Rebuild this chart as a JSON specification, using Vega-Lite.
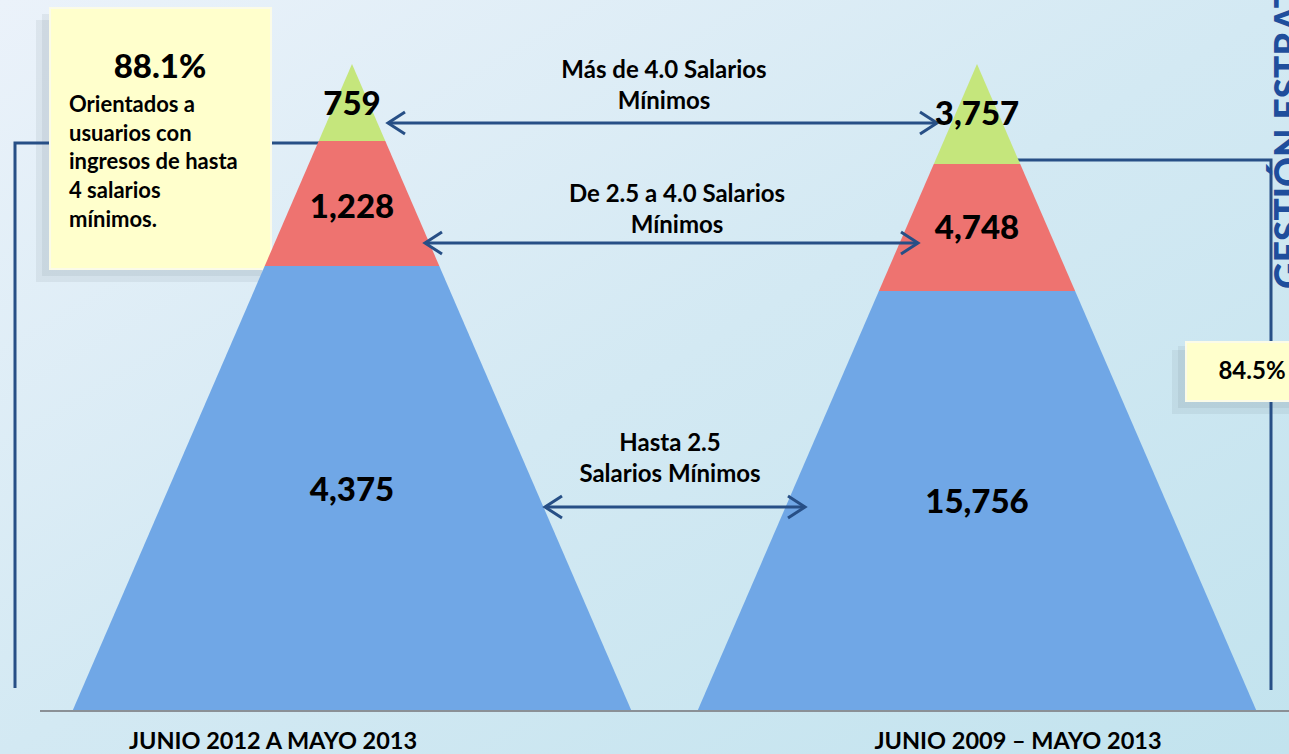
{
"$schema": "https://vega.github.io/schema/vega-lite/v6.json",
"width": 1289, "height": 754, "padding": 0,
"autosize": {"type": "none"},
"background": "#d6ebf4",
"config": {"view": {"stroke": null}},
"datasets": {
"bg": [{"x": 0, "x2": 1289, "y": 0, "y2": 754}],
"shadows": [{"x": 36, "x2": 262, "y": 20, "y2": 282}, {"x": 42, "x2": 266, "y": 14, "y2": 276}, {"x": 1172, "x2": 1289, "y": 350, "y2": 414}, {"x": 1178, "x2": 1289, "y": 346, "y2": 408}],
"boxes": [{"x": 50, "x2": 271, "y": 8, "y2": 269}, {"x": 1186, "x2": 1295, "y": 342, "y2": 401}],
"brackets": [
{"id": "L", "ord": 1, "x": 15, "y": 688}, {"id": "L", "ord": 2, "x": 15, "y": 143}, {"id": "L", "ord": 3, "x": 322, "y": 143},
{"id": "R", "ord": 1, "x": 1013, "y": 160}, {"id": "R", "ord": 2, "x": 1271, "y": 160}, {"id": "R", "ord": 3, "x": 1271, "y": 690}
],
"pyr": [
{"id": "p1g", "band": "g", "y": 64, "xl": 352, "xr": 352}, {"id": "p1g", "band": "g", "y": 141, "xl": 318.7, "xr": 385.3},
{"id": "p1r", "band": "r", "y": 141, "xl": 318.7, "xr": 385.3}, {"id": "p1r", "band": "r", "y": 266, "xl": 264.7, "xr": 439.3},
{"id": "p1b", "band": "b", "y": 266, "xl": 264.7, "xr": 439.3}, {"id": "p1b", "band": "b", "y": 712, "xl": 72, "xr": 632},
{"id": "p2g", "band": "g", "y": 64, "xl": 977, "xr": 977}, {"id": "p2g", "band": "g", "y": 164, "xl": 933.8, "xr": 1020.2},
{"id": "p2r", "band": "r", "y": 164, "xl": 933.8, "xr": 1020.2}, {"id": "p2r", "band": "r", "y": 291, "xl": 878.9, "xr": 1075.1},
{"id": "p2b", "band": "b", "y": 291, "xl": 878.9, "xr": 1075.1}, {"id": "p2b", "band": "b", "y": 712, "xl": 697, "xr": 1257}
],
"base": [{"x": 40, "x2": 1289, "y": 711}],
"shafts": [{"x": 388, "x2": 937, "y": 123}, {"x": 425, "x2": 918, "y": 243}, {"x": 545, "x2": 805, "y": 507}],
"heads": [
{"id": "a1l", "ord": 1, "x": 405, "y": 112}, {"id": "a1l", "ord": 2, "x": 388, "y": 123}, {"id": "a1l", "ord": 3, "x": 405, "y": 134},
{"id": "a1r", "ord": 1, "x": 920, "y": 112}, {"id": "a1r", "ord": 2, "x": 937, "y": 123}, {"id": "a1r", "ord": 3, "x": 920, "y": 134},
{"id": "a2l", "ord": 1, "x": 442, "y": 232}, {"id": "a2l", "ord": 2, "x": 425, "y": 243}, {"id": "a2l", "ord": 3, "x": 442, "y": 254},
{"id": "a2r", "ord": 1, "x": 901, "y": 232}, {"id": "a2r", "ord": 2, "x": 918, "y": 243}, {"id": "a2r", "ord": 3, "x": 901, "y": 254},
{"id": "a3l", "ord": 1, "x": 562, "y": 496}, {"id": "a3l", "ord": 2, "x": 545, "y": 507}, {"id": "a3l", "ord": 3, "x": 562, "y": 518},
{"id": "a3r", "ord": 1, "x": 788, "y": 496}, {"id": "a3r", "ord": 2, "x": 805, "y": 507}, {"id": "a3r", "ord": 3, "x": 788, "y": 518}
],
"values": [
{"x": 352, "y": 105, "t": "759"}, {"x": 352, "y": 208, "t": "1,228"}, {"x": 352, "y": 491, "t": "4,375"},
{"x": 977, "y": 115, "t": "3,757"}, {"x": 977, "y": 229, "t": "4,748"}, {"x": 977, "y": 503, "t": "15,756"}
],
"pct": [{"x": 160, "y": 68, "t": "88.1%"}],
"boxtext": [{"x": 69, "y": 105, "t": "Orientados a\nusuarios con\ningresos de hasta\n4 salarios\nmínimos."}],
"pct2": [{"x": 1252, "y": 372, "t": "84.5%"}],
"mid": [
{"x": 664, "y": 71, "t": "Más de 4.0 Salarios\nMínimos"},
{"x": 677, "y": 195, "t": "De 2.5 a 4.0 Salarios\nMínimos"},
{"x": 670, "y": 444, "t": "Hasta 2.5\nSalarios Mínimos"}
],
"periods": [{"x": 273, "y": 742, "t": "JUNIO 2012 A MAYO 2013"}, {"x": 1018, "y": 742, "t": "JUNIO 2009 – MAYO 2013"}],
"side": [{"x": 1291, "y": 289, "t": "GESTIÓN ESTRATÉGICA"}]
},
"layer": [
{"data": {"name": "bg"},
 "mark": {"type": "rect", "color": {"gradient": "linear", "x1": 0, "y1": 0, "x2": 1, "y2": 1, "stops": [{"offset": 0, "color": "#ebf2fa"}, {"offset": 0.5, "color": "#d3e9f3"}, {"offset": 1, "color": "#c2e3ee"}]}},
 "encoding": {
  "x": {"field": "x", "type": "quantitative", "scale": {"domain": [0, 1289], "nice": false, "zero": false}, "axis": null},
  "x2": {"field": "x2"},
  "y": {"field": "y", "type": "quantitative", "scale": {"domain": [0, 754], "nice": false, "zero": false, "reverse": true}, "axis": null},
  "y2": {"field": "y2"}}},
{"data": {"name": "shadows"},
 "mark": {"type": "rect", "color": "#5f7384", "opacity": 0.1},
 "encoding": {"x": {"field": "x", "type": "quantitative"}, "x2": {"field": "x2"}, "y": {"field": "y", "type": "quantitative"}, "y2": {"field": "y2"}}},
{"data": {"name": "brackets"},
 "mark": {"type": "line", "color": "#274f86", "strokeWidth": 3},
 "encoding": {"x": {"field": "x", "type": "quantitative"}, "y": {"field": "y", "type": "quantitative"}, "order": {"field": "ord"}, "detail": {"field": "id"}}},
{"data": {"name": "boxes"},
 "mark": {"type": "rect", "fill": "#ffffcc", "stroke": "#fbfbe8", "strokeWidth": 2},
 "encoding": {"x": {"field": "x", "type": "quantitative"}, "x2": {"field": "x2"}, "y": {"field": "y", "type": "quantitative"}, "y2": {"field": "y2"}}},
{"data": {"name": "pyr"},
 "mark": {"type": "area", "orient": "horizontal"},
 "encoding": {
  "y": {"field": "y", "type": "quantitative"},
  "x": {"field": "xl", "type": "quantitative", "stack": null},
  "x2": {"field": "xr"},
  "detail": {"field": "id"},
  "color": {"field": "band", "type": "nominal", "scale": {"domain": ["g", "r", "b"], "range": ["#c5e67c", "#ee7370", "#70a7e6"]}, "legend": null}}},
{"data": {"name": "base"},
 "mark": {"type": "rule", "color": "#8a9096", "strokeWidth": 2},
 "encoding": {"x": {"field": "x", "type": "quantitative"}, "x2": {"field": "x2"}, "y": {"field": "y", "type": "quantitative"}}},
{"data": {"name": "shafts"},
 "mark": {"type": "rule", "color": "#274f86", "strokeWidth": 3},
 "encoding": {"x": {"field": "x", "type": "quantitative"}, "x2": {"field": "x2"}, "y": {"field": "y", "type": "quantitative"}}},
{"data": {"name": "heads"},
 "mark": {"type": "line", "color": "#274f86", "strokeWidth": 3},
 "encoding": {"x": {"field": "x", "type": "quantitative"}, "y": {"field": "y", "type": "quantitative"}, "order": {"field": "ord"}, "detail": {"field": "id"}}},
{"data": {"name": "values"},
 "mark": {"type": "text", "font": "Lato", "fontWeight": 900, "fontSize": 33, "color": "#000000", "align": "center", "baseline": "middle"},
 "encoding": {"x": {"field": "x", "type": "quantitative"}, "y": {"field": "y", "type": "quantitative"}, "text": {"field": "t"}}},
{"data": {"name": "pct"},
 "mark": {"type": "text", "font": "Lato", "fontWeight": 900, "fontSize": 33, "color": "#000000", "align": "center", "baseline": "middle"},
 "encoding": {"x": {"field": "x", "type": "quantitative"}, "y": {"field": "y", "type": "quantitative"}, "text": {"field": "t"}}},
{"data": {"name": "boxtext"},
 "mark": {"type": "text", "font": "Lato", "fontWeight": "bold", "fontSize": 22, "lineHeight": 28.7, "lineBreak": "\n", "color": "#000000", "align": "left", "baseline": "middle"},
 "encoding": {"x": {"field": "x", "type": "quantitative"}, "y": {"field": "y", "type": "quantitative"}, "text": {"field": "t"}}},
{"data": {"name": "pct2"},
 "mark": {"type": "text", "font": "Lato", "fontWeight": "bold", "fontSize": 24, "color": "#000000", "align": "center", "baseline": "middle"},
 "encoding": {"x": {"field": "x", "type": "quantitative"}, "y": {"field": "y", "type": "quantitative"}, "text": {"field": "t"}}},
{"data": {"name": "mid"},
 "mark": {"type": "text", "font": "Lato", "fontWeight": "bold", "fontSize": 24, "lineHeight": 31, "lineBreak": "\n", "color": "#000000", "align": "center", "baseline": "middle"},
 "encoding": {"x": {"field": "x", "type": "quantitative"}, "y": {"field": "y", "type": "quantitative"}, "text": {"field": "t"}}},
{"data": {"name": "periods"},
 "mark": {"type": "text", "font": "Lato", "fontWeight": "bold", "fontSize": 23.5, "color": "#000000", "align": "center", "baseline": "middle"},
 "encoding": {"x": {"field": "x", "type": "quantitative"}, "y": {"field": "y", "type": "quantitative"}, "text": {"field": "t"}}},
{"data": {"name": "side"},
 "mark": {"type": "text", "font": "Lato", "fontWeight": 900, "fontSize": 37, "angle": 270, "color": "#1f4e9c", "align": "left", "baseline": "middle"},
 "encoding": {"x": {"field": "x", "type": "quantitative"}, "y": {"field": "y", "type": "quantitative"}, "text": {"field": "t"}}}
]
}
